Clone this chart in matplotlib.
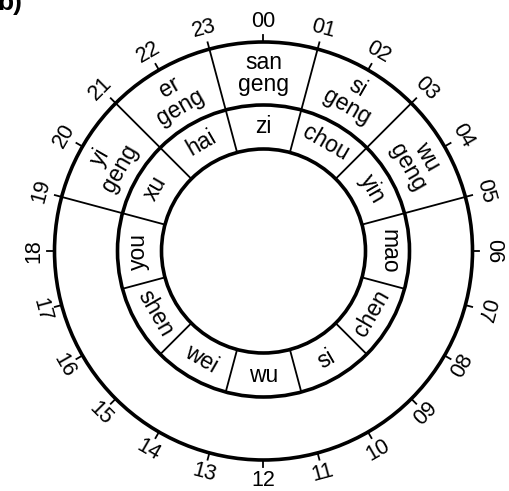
import matplotlib
matplotlib.use("Agg")
import matplotlib.pyplot as plt
from matplotlib.patches import Circle
import numpy as np

plt.rcParams['font.family'] = ['Liberation Sans', 'DejaVu Sans']

# hour labels around the clock face
hours = ["%02d" % h for h in range(24)]

# earthly branches, each centred on an even hour
branches = ["zi", "chou", "yin", "mao", "chen", "si",
            "wu", "wei", "shen", "you", "xu", "hai"]
branch_hours = [0, 2, 4, 6, 8, 10, 12, 14, 16, 18, 20, 22]

# night watches
geng = ["san\ngeng", "si\ngeng", "wu\ngeng", "yi\ngeng", "er\ngeng"]
geng_hours = [0, 2, 4, 20, 22]
geng_edges = [19, 21, 23, 1, 3, 5]

r_out = 209
r_mid = 146
r_in = 102
r_lab = 230

def pos(h, r):
    a = np.radians(h * 15)
    return r * np.sin(a), r * np.cos(a)

def rot(h, flip):
    r = -h * 15
    if flip:
        r += 180
    return r

fig = plt.figure(figsize=(5.1, 4.91), dpi=100)
ax = fig.add_axes([0, 0, 1, 1])
ax.set_xlim(-263.5, 246.5)
ax.set_ylim(-240, 251)
ax.axis('off')

for r in [r_out, r_mid, r_in]:
    ax.add_patch(Circle((0, 0), r, fill=False, lw=2.6, color='black'))

# hour ticks and labels
for i, lab in enumerate(hours):
    x0, y0 = pos(i, r_out)
    x1, y1 = pos(i, r_out + 7)
    ax.plot([x0, x1], [y0, y1], color='black', lw=1.3)
    x, y = pos(i, r_lab)
    ax.text(x, y, lab, ha='center', va='center', fontsize=15.5,
            rotation=rot(i, 8 <= i <= 17), rotation_mode='anchor')

# branch ring dividers (odd hours)
for h in range(1, 24, 2):
    x0, y0 = pos(h, r_in)
    x1, y1 = pos(h, r_mid)
    ax.plot([x0, x1], [y0, y1], color='black', lw=1.3)

# geng ring dividers
for h in geng_edges:
    x0, y0 = pos(h, r_mid)
    x1, y1 = pos(h, r_out)
    ax.plot([x0, x1], [y0, y1], color='black', lw=1.3)

for name, h in zip(branches, branch_hours):
    x, y = pos(h, (r_in + r_mid) / 2 + 1)
    ax.text(x, y, name, ha='center', va='center', fontsize=16.5,
            rotation=rot(h, 6 < h < 18), rotation_mode='anchor')

for name, h in zip(geng, geng_hours):
    x, y = pos(h, (r_mid + r_out) / 2)
    ax.text(x, y, name, ha='center', va='center', fontsize=16.5,
            rotation=rot(h, False), rotation_mode='anchor',
            multialignment='center', linespacing=0.95)

ax.text(-266, 241, "b)", fontsize=19, fontweight='bold', ha='left', va='baseline')

fig.savefig("out.png", dpi=100)
